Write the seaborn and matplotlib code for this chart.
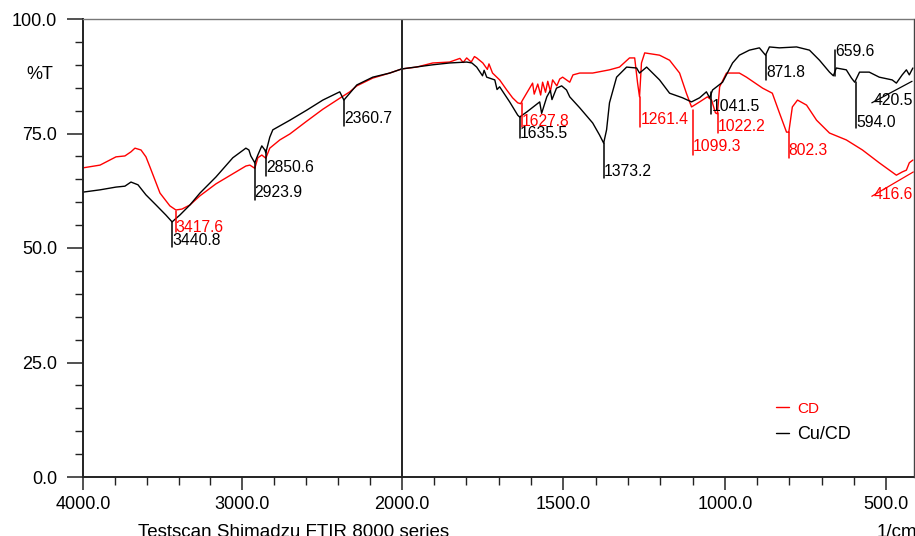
import numpy as np
import pandas as pd
import matplotlib
matplotlib.use("Agg")
import matplotlib.pyplot as plt
import seaborn as sns

# FTIR spectra, wavenumber (1/cm) vs %T
cd_wn = [4000, 3893, 3793, 3737, 3699, 3674, 3636, 3605, 3580, 3517, 3455, 3417,
         3379, 3329, 3266, 3166, 3060, 2978, 2953, 2922, 2903, 2878, 2853, 2828,
         2765, 2702, 2596, 2495, 2389, 2326, 2282, 2182, 2075, 2000,
         1954, 1904, 1852, 1820, 1810, 1799, 1785, 1775, 1768, 1749, 1735, 1730,
         1719, 1697, 1675, 1657, 1641, 1632, 1626, 1595, 1590, 1579, 1570, 1564,
         1555, 1548, 1540, 1533, 1520, 1511, 1502, 1480, 1470, 1449, 1409, 1357,
         1326, 1295, 1279, 1270, 1264, 1258, 1248, 1202, 1171, 1140, 1119, 1103,
         1078, 1054, 1041, 1029, 1023, 1016, 995, 955, 933, 883, 853, 831, 809,
         802, 791, 775, 747, 716, 676, 624, 574, 522, 469, 451, 438, 429, 418]
cd_t = [67.5, 68.1, 69.9, 70.1, 71.0, 71.8, 71.4, 69.9, 67.7, 62.0, 59.2, 58.3,
        58.5, 59.4, 61.4, 64.0, 66.2, 67.9, 68.1, 67.4, 69.7, 70.3, 69.6, 71.8,
        73.6, 74.9, 77.7, 80.3, 82.7, 84.1, 85.4, 87.1, 88.2, 89.1,
        89.5, 90.4, 90.6, 91.4, 90.5, 91.5, 90.6, 91.8, 91.5, 90.4, 89.0, 90.2,
        88.2, 86.7, 84.5, 82.8, 81.7, 81.5, 82.3, 86.0, 83.6, 85.8, 83.4, 86.2,
        84.0, 86.4, 84.2, 86.7, 85.4, 86.9, 87.3, 86.2, 87.8, 88.2, 88.2, 88.9,
        89.5, 91.5, 91.5, 86.0, 83.0, 90.4, 92.6, 92.1, 91.0, 88.2, 83.8, 80.8,
        81.9, 83.0, 82.3, 79.5, 79.3, 85.2, 88.2, 88.2, 87.3, 84.9, 83.8, 79.5,
        75.3, 75.3, 80.8, 82.3, 81.2, 77.9, 75.1, 73.6, 71.4, 68.6, 65.9, 66.6,
        67.0, 68.6, 69.2]

cucd_wn = [4000, 3893, 3793, 3737, 3699, 3655, 3605, 3542, 3480, 3441, 3392,
           3329, 3266, 3166, 3060, 2978, 2959, 2947, 2922, 2903, 2878, 2859,
           2853, 2828, 2809, 2702, 2596, 2495, 2389, 2363, 2326, 2282, 2182,
           2075, 2000,
           1904, 1852, 1799, 1783, 1768, 1750, 1745, 1737, 1712, 1705, 1697,
           1666, 1641, 1635, 1613, 1573, 1567, 1551, 1540, 1535, 1521, 1505,
           1490, 1480, 1449, 1409, 1388, 1375, 1366, 1357, 1335, 1304, 1273,
           1264, 1242, 1202, 1171, 1131, 1103, 1078, 1057, 1047, 1038, 1007,
           976, 955, 924, 893, 874, 862, 831, 778, 738, 707, 676, 664, 655, 624,
           608, 598, 583, 553, 522, 482, 469, 451, 438, 429, 418]
cucd_t = [62.2, 62.7, 63.3, 63.5, 64.4, 63.8, 61.6, 59.4, 57.2, 55.7, 57.2,
          59.4, 62.0, 65.5, 69.7, 71.8, 71.4, 70.1, 68.6, 70.3, 72.3, 71.4,
          70.8, 74.2, 75.8, 77.9, 80.1, 82.3, 84.1, 82.3, 83.8, 85.6, 87.3,
          88.2, 89.1,
          90.0, 90.4, 90.6, 90.4, 89.5, 87.6, 88.8, 87.3, 86.7, 84.6, 85.2,
          81.9, 79.0, 78.6, 79.7, 81.9, 79.4, 83.0, 84.4, 82.4, 84.9, 85.4,
          84.5, 83.0, 80.6, 77.3, 74.7, 72.9, 75.8, 81.7, 87.3, 89.5, 89.3,
          88.2, 89.5, 86.7, 83.8, 82.8, 81.9, 82.8, 84.1, 82.8, 84.5, 86.2,
          90.4, 92.1, 93.2, 93.7, 92.1, 93.9, 93.7, 93.9, 93.2, 91.0, 88.4,
          87.6, 89.3, 88.9, 87.1, 86.2, 88.4, 88.4, 87.3, 86.7, 86.0, 87.8,
          88.9, 87.8, 89.3]

# peak labels: wavenumber, top of leader, bottom of leader, text height
cucd_peaks = ["3440.8", "2923.9", "2850.6", "2360.7", "1635.5", "1373.2",
              "1041.5", "871.8", "594.0"]
cucd_peak_top = [55.7, 68.6, 71.4, 82.3, 78.6, 72.9, 84.1, 92.1, 86.2]
cucd_peak_bot = [50.2, 60.5, 65.7, 76.6, 74.0, 65.3, 79.3, 86.7, 76.2]
cucd_peak_txt = [51.7, 62.2, 67.5, 78.2, 74.9, 66.8, 80.8, 88.4, 77.5]

cd_peaks = ["3417.6", "1627.8", "1261.4", "1099.3", "1022.2", "802.3"]
cd_peak_top = [58.1, 81.7, 83.0, 80.1, 79.5, 75.3]
cd_peak_bot = [53.5, 76.4, 76.4, 70.3, 75.1, 69.7]
cd_peak_txt = [54.4, 77.7, 78.0, 72.1, 76.6, 71.2]

RED = "#ff0000"
BLACK = "#000000"


# Shimadzu style axis: 4000-2000 compressed, 2000-400 expanded x2
def fwd(w):
    w = np.asarray(w, dtype=float)
    return -np.where(w >= 2000, (4000 - w) / 2000, 1 + 1.0136 * (2000 - w) / 1000)


def inv(u):
    u = -np.asarray(u, dtype=float)
    return np.where(u <= 1, 4000 - 2000 * u, 2000 - (u - 1) * 1000 / 1.0136)


sns.set_theme(style="ticks")
plt.rcParams["font.family"] = ["Liberation Sans", "DejaVu Sans"]
plt.rcParams["text.color"] = "black"

fig = plt.figure(figsize=(9.15, 5.36), dpi=100)
ax = fig.add_axes([83 / 915, 59 / 536, 830.5 / 915, 458 / 536])
ax.set_xscale("function", functions=(fwd, inv))

df_cd = pd.DataFrame({"wn": cd_wn, "T": cd_t})
df_cu = pd.DataFrame({"wn": cucd_wn, "T": cucd_t})
sns.lineplot(data=df_cd, x="wn", y="T", color=RED, lw=1.0, ax=ax,
             sort=False, label="CD")
sns.lineplot(data=df_cu, x="wn", y="T", color=BLACK, lw=1.0, ax=ax,
             sort=False, label="Cu/CD")

ax.set_xlim(4000, 416)
ax.set_ylim(0, 100)
ax.axvline(2000, color="#222222", lw=1.4)

# peak markers
for lab, t0, t1, ty in zip(cucd_peaks, cucd_peak_top, cucd_peak_bot, cucd_peak_txt):
    w = float(lab)
    ax.plot([w, w], [t0, t1], color=BLACK, lw=1.1)
    ax.text(w, ty, lab, color=BLACK, fontsize=11.3, ha="left", va="center")
for lab, t0, t1, ty in zip(cd_peaks, cd_peak_top, cd_peak_bot, cd_peak_txt):
    w = float(lab)
    ax.plot([w, w], [t0, t1], color=RED, lw=1.1)
    ax.text(w, ty, lab, color=RED, fontsize=11.3, ha="left", va="center")

# 659.6 label sits above its marker
ax.plot([659.6, 659.6], [93.2, 87.6], color=BLACK, lw=1.1)
ax.text(659.6, 93.0, "659.6", color=BLACK, fontsize=11.3, ha="left", va="center")
# slanted leaders at the low-wavenumber end
ax.plot([420.5, 545], [86.4, 81.7], color=BLACK, lw=0.9)
ax.text(540, 82.3, "420.5", color=BLACK, fontsize=11.3, ha="left", va="center")
ax.plot([416.6, 545], [66.6, 61.3], color=RED, lw=0.9)
ax.text(540, 61.6, "416.6", color=RED, fontsize=11.3, ha="left", va="center")

# axes decoration
ax.set_xticks([4000, 3000, 2000, 1500, 1000, 500])
ax.set_xticklabels(["4000.0", "3000.0", "2000.0", "1500.0", "1000.0", "500.0"])
ax.set_xticks(list(range(3800, 2000, -200)) + list(range(1900, 400, -100)),
              minor=True)
ax.set_yticks([0, 25, 50, 75, 100])
ax.set_yticklabels(["0.0", "25.0", "50.0", "75.0", "100.0"])
ax.set_yticks(np.arange(0, 101, 5), minor=True)
ax.tick_params(axis="x", which="major", length=9.5, width=1.1, pad=4,
               labelsize=13, colors="#222222")
ax.tick_params(axis="x", which="minor", length=6, width=1.0, colors="#222222")
ax.tick_params(axis="y", which="major", length=11.5, width=1.1, pad=7,
               labelsize=13, colors="#222222")
ax.tick_params(axis="y", which="minor", length=6, width=1.0, colors="#222222")
ax.tick_params(labelcolor="black")

for side in ["left", "bottom"]:
    ax.spines[side].set_color("#222222")
    ax.spines[side].set_linewidth(1.4)
ax.spines["top"].set_color("#777777")
ax.spines["top"].set_linewidth(1.0)
ax.spines["right"].set_color("#444444")
ax.spines["right"].set_linewidth(1.0)

ax.set_xlabel("")
ax.set_ylabel("%T", rotation=0, fontsize=13, ha="center", va="center",
              color="black")
ax.yaxis.set_label_coords(-0.052, 0.878)

leg = ax.legend(loc="upper left", bbox_to_anchor=(0.826, 0.183), frameon=False,
                handlelength=0.7, handletextpad=0.45, labelspacing=0.55,
                borderaxespad=0, fontsize=13)
leg.get_texts()[0].set_color(RED)
leg.get_texts()[0].set_fontsize(11)
leg.get_texts()[1].set_color(BLACK)

fig.text(138 / 915, 1 - 524 / 536, "Testscan Shimadzu FTIR 8000 series",
         fontsize=13.5, ha="left", va="top", color="black")
fig.text(877 / 915, 1 - 524 / 536, "1/cm", fontsize=13.5, ha="left", va="top",
         color="black")

fig.savefig("out.png", dpi=100, facecolor="white")
